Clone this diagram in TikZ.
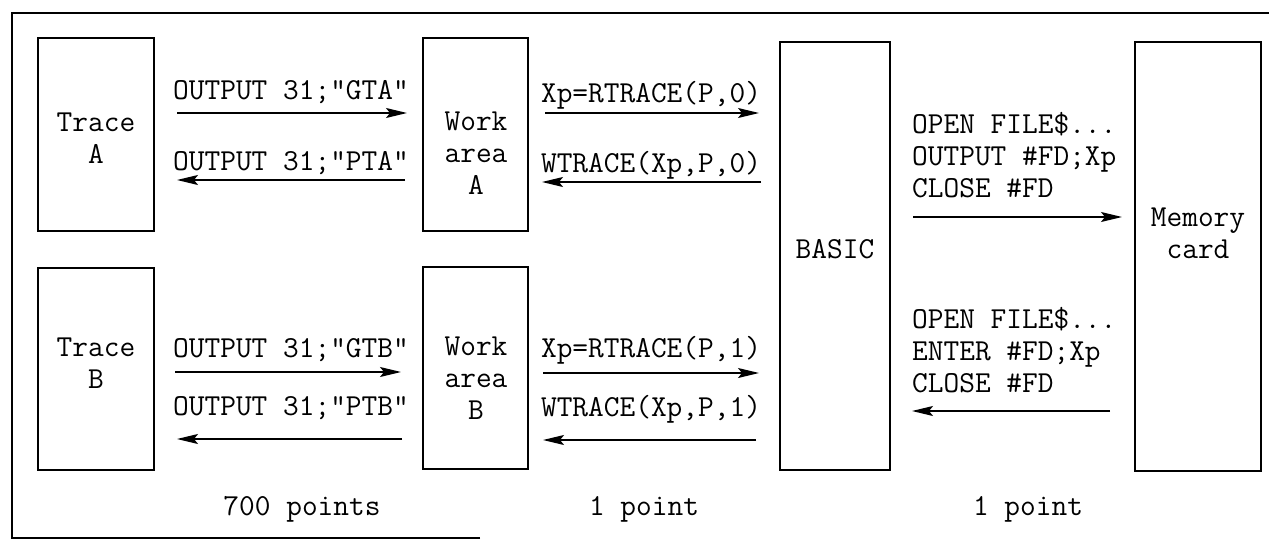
\documentclass[tikz,border=0pt]{standalone}
\usepackage{fontspec}
\newcommand{\courfont}{\ttfamily\fontsize{30.5}{32}\selectfont}
\usetikzlibrary{arrows.meta}
\begin{document}
\begin{tikzpicture}[x=1pt,y=-1pt,
  box/.style={draw,line width=2.2pt,inner sep=0pt},
  txt/.style={inner sep=0pt,font=\courfont},
  lbl/.style={txt,align=center,anchor=base},
  arr/.style={line width=1.4pt,-{Stealth[length=21pt,width=10pt,inset=4pt]}},
  frame/.style={line width=1.8pt}]
\useasboundingbox (0,0) rectangle (1269,541);
% frame
\draw[frame] (480,538) -- (12,538) -- (12,13) -- (1269,13);
% boxes
\node[box,minimum width=116pt,minimum height=193pt] (traceA) at (96,134.5) {};
\node[box,minimum width=105pt,minimum height=193pt] (workA) at (475.5,134.5) {};
\node[box,minimum width=116pt,minimum height=202pt] (traceB) at (96,369) {};
\node[box,minimum width=105pt,minimum height=202pt] (workB) at (475.5,368) {};
\node[box,minimum width=110pt,minimum height=428pt] (basic) at (835,256) {};
\node[box,minimum width=126pt,minimum height=429pt] (card) at (1198,256.5) {};
% box texts (anchor base = baseline of last line)
\node[lbl] (tAt) at (96,163) {Trace\\A};
\node[lbl] (wAt) at (476,194) {Work\\area\\A};
\node[lbl] (tBt) at (96,388) {Trace\\B};
\node[lbl] (wBt) at (476,419) {Work\\area\\B};
\node[lbl] (bt) at (835,258) {BASIC};
\node[lbl] (ct) at (1198,258) {Memory\\card};
% arrow labels
\node[lbl] (l1) at (291,99) {OUTPUT 31;"GTA"};
\node[lbl] (l2) at (291,170) {OUTPUT 31;"PTA"};
\node[lbl] (l3) at (651,102) {Xp=RTRACE(P,0)};
\node[lbl] (l4) at (651,172) {WTRACE(Xp,P,0)};
\node[lbl] (l5) at (291,357) {OUTPUT 31;"GTB"};
\node[lbl] (l6) at (291,415) {OUTPUT 31;"PTB"};
\node[lbl] (l7) at (651,357) {Xp=RTRACE(P,1)};
\node[lbl] (l8) at (651,416) {WTRACE(Xp,P,1)};
\node[txt,align=left,anchor=base west] (l9) at (912,197) {OPEN FILE\$...\\OUTPUT \#FD;Xp\\CLOSE \#FD};
\node[txt,align=left,anchor=base west] (l10) at (912,392) {OPEN FILE\$...\\ENTER \#FD;Xp\\CLOSE \#FD};
% bottom labels
\node[lbl] (p1) at (302,515) {700 points};
\node[lbl] (p2) at (644,515) {1 point};
\node[lbl] (p3) at (1028,515) {1 point};
% arrow end points
\coordinate (a1s) at (177,113); \coordinate (a1e) at (407,113);
\coordinate (a2s) at (405,180); \coordinate (a2e) at (177,180);
\coordinate (a3s) at (545,113); \coordinate (a3e) at (759,113);
\coordinate (a4s) at (761,182); \coordinate (a4e) at (542,182);
\coordinate (a5s) at (913,217); \coordinate (a5e) at (1122,217);
\coordinate (b1s) at (175,372); \coordinate (b1e) at (401,372);
\coordinate (b2s) at (402,439); \coordinate (b2e) at (177,439);
\coordinate (b3s) at (543,373); \coordinate (b3e) at (759,373);
\coordinate (b4s) at (756,440); \coordinate (b4e) at (543,440);
\coordinate (b5s) at (1110,411); \coordinate (b5e) at (912,411);
\draw[arr] (a1s) -- (a1e);
\draw[arr] (a2s) -- (a2e);
\draw[arr] (a3s) -- (a3e);
\draw[arr] (a4s) -- (a4e);
\draw[arr] (a5s) -- (a5e);
\draw[arr] (b1s) -- (b1e);
\draw[arr] (b2s) -- (b2e);
\draw[arr] (b3s) -- (b3e);
\draw[arr] (b4s) -- (b4e);
\draw[arr] (b5s) -- (b5e);
\end{tikzpicture}
\end{document}
